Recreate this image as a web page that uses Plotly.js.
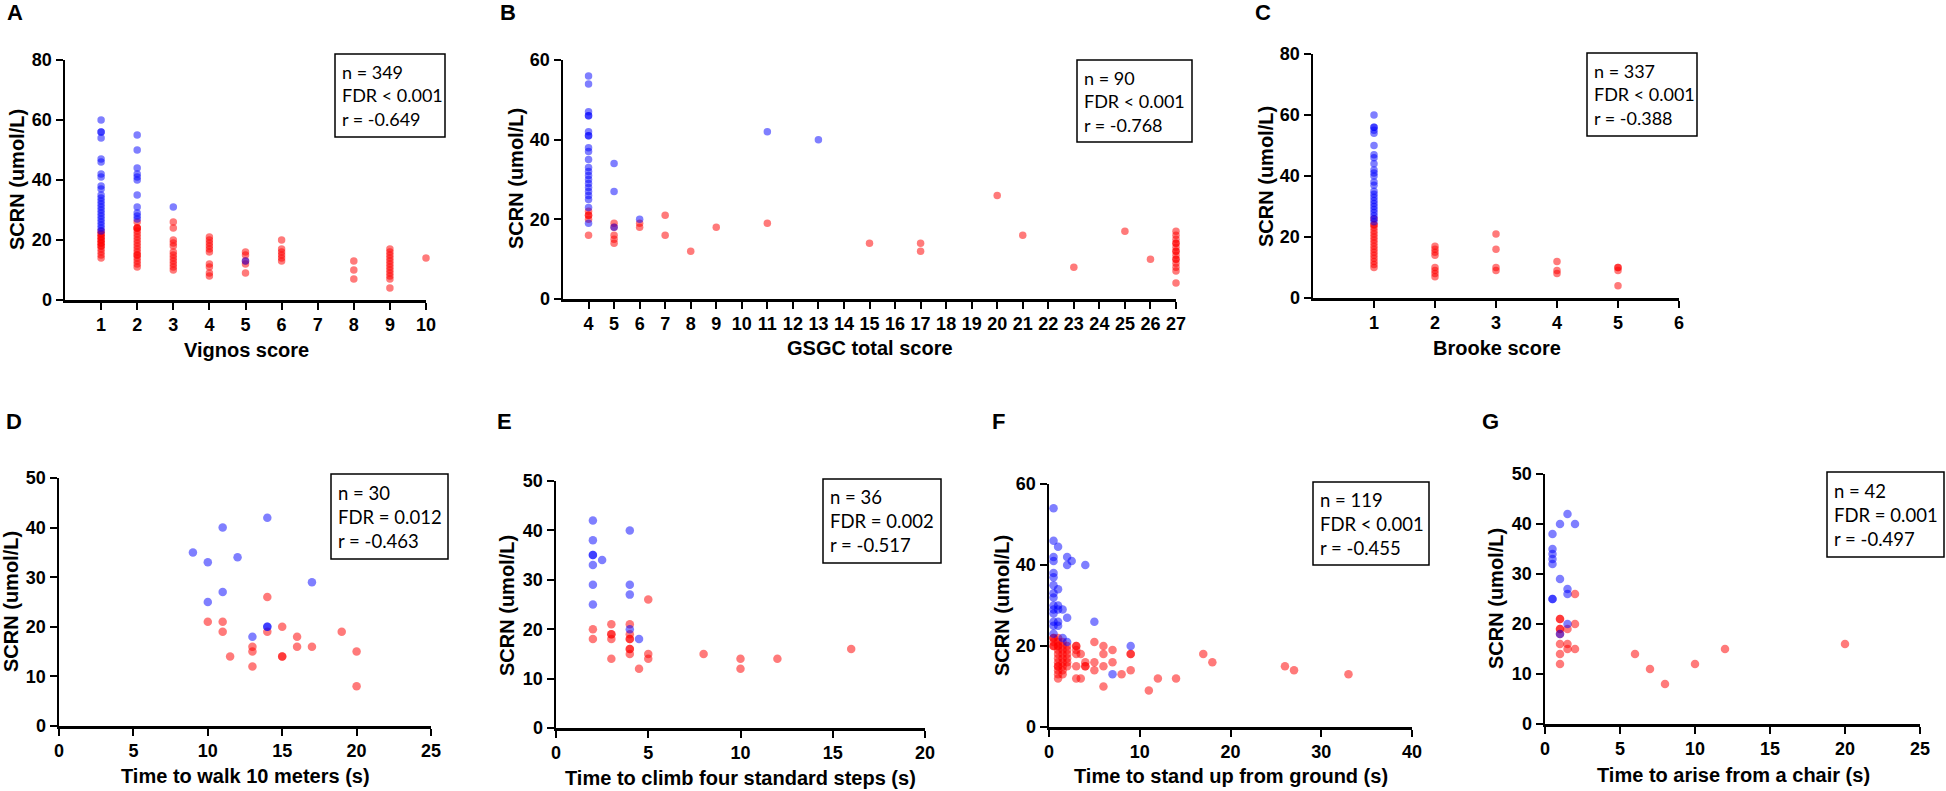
<!DOCTYPE html>
<html>
<head>
<meta charset="utf-8">
<script src="https://cdn.plot.ly/plotly-3.0.1.min.js"></script>
<style>html,body{margin:0;padding:0;background:#fff;}#chart{width:1946px;height:791px;}</style>
</head>
<body>
<div id="chart"></div>
<script>
// ---------- DATA ----------
// A: Vignos score
const vignosBlueX = [1,1,1,1,1,1,1,1,1,1,1,1,1,1,1,1,1,1,1,1,1,1,1, 2,2,2,2,2,2,2,2,2,2,2, 3, 5];
const vignosBlueY = [60,56,56,54,47,46,42,41,38,37,35,34,33,32,31,30,29,28,27,26,25,24,23, 55,50,44,42,41,40,35,31,29,28,27, 31, 13];
const vignosRedX = [1,1,1,1,1,1,1,1,1,1,1,1,1,1,1, 2,2,2,2,2,2,2,2,2,2,2,2,2,2,2,2,2,2, 3,3,3,3,3,3,3,3,3,3,3,3, 4,4,4,4,4,4,4,4,4,4, 5,5,5,5,5, 6,6,6,6,6,6, 8,8,8, 9,9,9,9,9,9,9,9,9,9,9,9, 10];
const vignosRedY = [23,22,22,21,21,20,20,19,19,18,18,17,16,15,14, 26,24,24,24,23,22,21,20,19,18,17,16,15,15,14,13,12,11, 26,24,20,19,18,16,15,14,13,12,11,10, 21,20,19,18,17,16,12,11,9,8, 16,15,13,12,9, 20,17,16,15,14,13, 13,10,7, 17,16,15,14,13,12,11,10,9,8,7,4, 14];
const vignosTicks = [1,2,3,4,5,6,7,8,9,10];

// B: GSGC total score
const gsgcBlueX = [4,4,4,4,4,4,4,4,4,4,4,4,4,4,4,4,4,4,4,4,4,4, 5,5,5, 6, 11, 13];
const gsgcBlueY = [56,54,47,46,46,42,41,41,38,37,35,33,32,31,30,29,28,27,26,25,23,19, 34,27,18, 20, 42, 40];
const gsgcRedX = [4,4,4,4,4, 5,5,5,5,5, 6,6, 7,7, 8, 9, 11, 15, 17,17, 20, 21, 23, 25, 26, 27,27,27,27,27,27,27,27,27,27,27,27,27,27,27];
const gsgcRedY = [22,21,21,20,16, 19,18,16,15,14, 19,18, 21,16, 12, 18, 19, 14, 14,12, 26, 16, 8, 17, 10, 17,16,15,14,14,13,12,12,11,10,10,9,8,7,4];
const gsgcTicks = [4,5,6,7,8,9,10,11,12,13,14,15,16,17,18,19,20,21,22,23,24,25,26,27];

// C: Brooke score
const brookeBlueX = [1,1,1,1,1,1,1,1,1,1,1,1,1,1,1,1,1,1,1,1,1,1,1,1,1];
const brookeBlueY = [60,56,56,55,54,50,47,46,44,42,41,40,38,37,35,34,33,32,31,30,29,28,27,26,25];
const brookeRedX = [1,1,1,1,1,1,1,1,1,1,1,1,1,1,1,1,1, 2,2,2,2,2,2,2,2, 3,3,3,3, 4,4,4, 5,5,5,5];
const brookeRedY = [26,24,24,23,22,21,20,19,18,17,16,15,14,13,12,11,10, 17,16,15,14,10,9,8,7, 21,16,10,9, 12,9,8, 10,10,9,4];
const brookeTicks = [1,2,3,4,5,6];

// D: Time to walk 10 meters
const walkBlueX = [9,10,11,12,10,11,14,17,13,14,14];
const walkBlueY = [35,33,40,34,25,27,42,29,18,20,20];
const walkRedX = [10,11,11,11.5,13,13,13,14,14,15,15,15,16,16,17,19,20,20];
const walkRedY = [21,21,19,14,16,15,12,26,19,20,14,14,18,16,16,19,15,8];

// E: Time to climb four standard steps
const climbBlueX = [2,2,2,2,2.5,2,2,2,4,4,4,4,4.5];
const climbBlueY = [42,38,35,35,34,33,29,25,40,29,27,20,18];
const climbRedX = [2,2,3,3,3,3,3,4,4,4,4,4,4,4,4.5,5,5,5,8,10,10,12,16];
const climbRedY = [20,18,21,19,19,18,14,21,19,18,18,16,16,15,12,26,15,14,15,14,12,14,16];

// F: Time to stand up from ground
const standBlueX = [0.5,0.5,0.5,0.5,0.5,0.5,0.5,0.5,0.5,0.5,0.5,0.5,0.5,0.5,0.5, 1,1,1,1,1,1, 1.5,1.5, 2,2,2,2, 2.5, 4, 5, 7, 9];
const standBlueY = [54,46,42,41,38,37,35,33,32,30,29,28,26,25,23, 44.5,34,30,29,26,25, 29,22, 42,40,27,21, 41, 40, 26, 13, 20];
const standRedX = [0.5,0.5,0.5,0.5,0.5, 1,1,1,1,1,1,1,1,1,1,1,1,1, 1.5,1.5,1.5,1.5,1.5,1.5,1.5,1.5,1.5, 2,2,2,2,2,2, 3,3,3,3,3,3, 3.5,3.5, 4,4,4, 5,5,5, 6,6,6,6, 7,7, 8, 9,9,9, 11, 12, 14, 17, 18, 26, 27, 33];
const standRedY = [22,22,21,20,20, 22,21,20,20,19,18,17,16,15,15,14,13,12, 21,20,19,18,17,16,15,14,13, 20,19,18,17,16,15, 20,20,19,18,15,12, 18,12, 16,15,15, 21,16,14, 20,18,15,10, 19,16, 13, 18,18,14, 9, 12, 12, 18, 16, 15, 14, 13];

// G: Time to arise from a chair
const chairBlueX = [0.5,0.5,0.5,0.5,0.5,0.5,0.5,1,1.5,2,1,1.5,1.5,1.5,1];
const chairBlueY = [38,35,34,33,32,25,25,40,42,40,29,27,26,20,18];
const chairRedX = [1,1,1,1,1,1,1,1,1.5,1.5,1.5,2,2,2,6,7,8,10,12,20];
const chairRedY = [21,21,19,19,18,16,14,12,19,16,15,26,20,15,14,11,8,12,15,16];

// Panel texts
const panelLetters = ['A','B','C','D','E','F','G'];
const xTitles = ['Vignos score','GSGC total score','Brooke score','Time to walk 10 meters (s)','Time to climb four standard steps (s)','Time to stand up from ground (s)','Time to arise from a chair (s)'];
const yTitle = 'SCRN (umol/L)';
const statN = ['349','90','337','30','36','119','42'];
const statFDR = ['< 0.001','< 0.001','< 0.001','= 0.012','= 0.002','< 0.001','= 0.001'];
const statR = ['-0.649','-0.768','-0.388','-0.463','-0.517','-0.455','-0.497'];

// ---------- LAYOUT ----------
const W = 1946, H = 791;
const px = v => v / W;
const py = v => 1 - v / H;

const BLUE = 'rgba(0,0,255,0.5)';
const RED = 'rgba(255,0,0,0.52)';
const ARIAL = 'Liberation Sans, Arial, sans-serif';
const CAL = 'Lato, Open Sans, sans-serif';

const panels = [
  {bx:vignosBlueX, by:vignosBlueY, rx:vignosRedX, ry:vignosRedY, xd:[65,426], yd:[60,300], xr:[0,10], xt:vignosTicks, yr:[0,80], yt:[0,20,40,60,80], ms:7.5,
   asz:18, box:[335,54,445,137], lab:[15,12], ytl:[17,180], xtl:[246,350]},
  {bx:gsgcBlueX, by:gsgcBlueY, rx:gsgcRedX, ry:gsgcRedY, xd:[563,1176], yd:[60,299], xr:[3,27], xt:gsgcTicks, yr:[0,60], yt:[0,20,40,60], ms:7.5,
   asz:18, box:[1077,60,1192,142], lab:[508,12], ytl:[516,179], xtl:[870,348]},
  {bx:brookeBlueX, by:brookeBlueY, rx:brookeRedX, ry:brookeRedY, xd:[1313,1679], yd:[54,298], xr:[0,6], xt:brookeTicks, yr:[0,80], yt:[0,20,40,60,80], ms:7.5,
   asz:18, box:[1587,53,1697,136], lab:[1263,12], ytl:[1266,177], xtl:[1497,348]},
  {bx:walkBlueX, by:walkBlueY, rx:walkRedX, ry:walkRedY, xd:[59,431], yd:[478,726], xr:[0,25], xt:[0,5,10,15,20,25], yr:[0,50], yt:[0,10,20,30,40,50], ms:8.5,
   asz:18.5, box:[331,474,448,559], lab:[14,421], ytl:[11,602], xtl:[245,776]},
  {bx:climbBlueX, by:climbBlueY, rx:climbRedX, ry:climbRedY, xd:[556,925], yd:[481,728], xr:[0,20], xt:[0,5,10,15,20], yr:[0,50], yt:[0,10,20,30,40,50], ms:8.5,
   asz:18.5, box:[823,479,941,563], lab:[505,421], ytl:[507,605], xtl:[740,778]},
  {bx:standBlueX, by:standBlueY, rx:standRedX, ry:standRedY, xd:[1049,1412], yd:[484,727], xr:[0,40], xt:[0,10,20,30,40], yr:[0,60], yt:[0,20,40,60], ms:8.5,
   asz:18.5, box:[1313,482,1429,565], lab:[998,421], ytl:[1002,606], xtl:[1231,776]},
  {bx:chairBlueX, by:chairBlueY, rx:chairRedX, ry:chairRedY, xd:[1545,1920], yd:[474,724], xr:[0,25], xt:[0,5,10,15,20,25], yr:[0,50], yt:[0,10,20,30,40,50], ms:8.5,
   asz:18.5, box:[1827,472,1944,557], lab:[1490,421], ytl:[1496,599], xtl:[1733,775]}
];

const data = [];
const layout = {
  width: W, height: H, margin: {l:0, r:0, t:0, b:0},
  paper_bgcolor: '#fff', plot_bgcolor: 'rgba(0,0,0,0)',
  showlegend: false, hovermode: false,
  annotations: [], shapes: []
};

panels.forEach((p, i) => {
  const n = i === 0 ? '' : String(i + 1);
  const xa = 'x' + n, ya = 'y' + n;
  const mk = c => ({color: c, size: p.ms, line: {width: 0}});
  data.push({type:'scatter', mode:'markers', x:p.rx, y:p.ry, xaxis:xa, yaxis:ya, marker:mk(RED), cliponaxis:false});
  data.push({type:'scatter', mode:'markers', x:p.bx, y:p.by, xaxis:xa, yaxis:ya, marker:mk(BLUE), cliponaxis:false});
  const common = {
    showline:true, linecolor:'#000', linewidth:2.5,
    ticks:'outside', ticklen:7, tickwidth:2, tickcolor:'#000',
    showgrid:false, zeroline:false, fixedrange:true, tickangle:0,
    tickfont:{family:ARIAL, size:18, weight:700, color:'#000'}
  };
  layout['xaxis' + n] = Object.assign({}, common, {
    domain:[px(p.xd[0]), px(p.xd[1])], range:p.xr, tickmode:'array', tickvals:p.xt, anchor:ya
  });
  layout['yaxis' + n] = Object.assign({}, common, {
    domain:[py(p.yd[1]), py(p.yd[0])], range:p.yr, tickmode:'array', tickvals:p.yt, anchor:xa
  });
  // panel letter
  layout.annotations.push({xref:'paper', yref:'paper', x:px(p.lab[0]), y:py(p.lab[1]), xanchor:'center', yanchor:'middle',
    text:panelLetters[i], showarrow:false, font:{family:ARIAL, size:22, weight:700, color:'#000'}});
  // axis titles
  const tfont = {family:ARIAL, size:20, weight:700, color:'#000'};
  layout.annotations.push({xref:'paper', yref:'paper', x:px(p.xtl[0]), y:py(p.xtl[1]), xanchor:'center', yanchor:'middle',
    text:xTitles[i], showarrow:false, font:tfont});
  layout.annotations.push({xref:'paper', yref:'paper', x:px(p.ytl[0]), y:py(p.ytl[1]), xanchor:'center', yanchor:'middle',
    text:yTitle, textangle:-90, showarrow:false, font:tfont});
  // stats box
  const [x0, y0, x1, y1] = p.box;
  layout.shapes.push({type:'rect', xref:'paper', yref:'paper', x0:px(x0), x1:px(x1), y0:py(y1), y1:py(y0),
    line:{color:'#000', width:1.5}, fillcolor:'rgba(0,0,0,0)'});
  layout.annotations.push({xref:'paper', yref:'paper', x:px(x0 + 5), y:py((y0 + y1) / 2), xanchor:'left', yanchor:'middle',
    text:'n = ' + statN[i] + '<br>FDR ' + statFDR[i] + '<br>r = ' + statR[i],
    showarrow:false, align:'left',
    font:{family:CAL, size:p.asz, color:'#000'}});
});

Plotly.newPlot('chart', data, layout, {staticPlot:true, displayModeBar:false});
</script>
</body>
</html>
